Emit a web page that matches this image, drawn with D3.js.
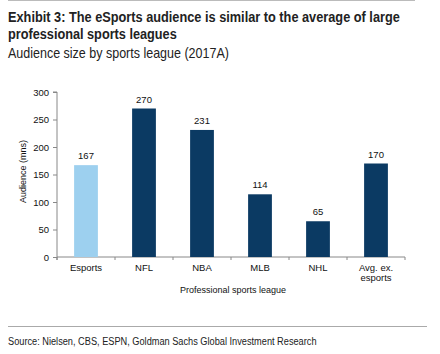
<!DOCTYPE html>
<html>
<head>
<meta charset="utf-8">
<script src="https://cdn.jsdelivr.net/npm/d3@7"></script>
<style>
  body { margin: 0; background: #fff; }
  svg { display: block; }
  .title { font-family: "Liberation Sans Narrow", "Arial Narrow", "Liberation Sans", sans-serif; fill: #222; }
  .chart text { font-family: "Liberation Sans", Arial, sans-serif; fill: #111; }
</style>
</head>
<body>
<svg id="chart" width="440" height="354"></svg>
<script>
const categories = ["Esports", "NFL", "NBA", "MLB", "NHL", "Avg. ex. esports"];
const audience = [167, 270, 231, 114, 65, 170];
const yTicks = [0, 50, 100, 150, 200, 250, 300];

const colorHighlight = "#9dd0ef";
const colorBase = "#0b3a63";

const svg = d3.select("#chart");
const margin = { top: 92, left: 57, right: 35, bottom: 97 };
const width = 440 - margin.left - margin.right;
const height = 354 - margin.top - margin.bottom;

// header lines, squeezed horizontally to mimic the condensed face
function headerText(txt, yPos, size, weight, len, fill) {
    const t = svg.append("text").attr("class", "title")
        .attr("x", 0).attr("y", 0)
        .attr("font-size", size)
        .attr("font-weight", weight)
        .attr("fill", fill || "#222")
        .text(txt);
    const natural = t.node().getComputedTextLength();
    const k = Math.min(1, len / natural);
    t.attr("transform", `translate(8,${yPos}) scale(${k},1)`);
}

svg.append("line")
    .attr("x1", 8).attr("x2", 415).attr("y1", 0.5).attr("y2", 0.5)
    .attr("stroke", "#bbb").attr("stroke-width", 1);

headerText("Exhibit 3: The eSports audience is similar to the average of large", 22, 15.5, "bold", 392);
headerText("professional sports leagues", 39, 15.5, "bold", 169);
headerText("Audience size by sports league (2017A)", 58, 14, "normal", 221);

const g = svg.append("g")
    .attr("class", "chart")
    .attr("transform", `translate(${margin.left},${margin.top})`);

const x = d3.scaleBand()
    .domain(categories)
    .range([0, width])
    .paddingInner(0.59)
    .paddingOuter(0.295);

const y = d3.scaleLinear()
    .domain([0, 300])
    .range([height, 0]);

// y axis
const yAxis = g.append("g")
    .call(d3.axisLeft(y).tickValues(yTicks).tickSize(4).tickPadding(4));
yAxis.select(".domain").attr("stroke", "#888").attr("d", `M-4,0H0V${height + 3}`);
yAxis.selectAll(".tick line").attr("stroke", "#888");
yAxis.selectAll("text").attr("font-size", 9.5).attr("font-family", "Liberation Sans, Arial, sans-serif").attr("fill", "#111");

// x axis with ticks at band boundaries
const xAxisG = g.append("g").attr("transform", `translate(0,${height})`);
xAxisG.append("line")
    .attr("x1", 0).attr("x2", width)
    .attr("stroke", "#888");
const bounds = d3.range(categories.length + 1).map(i => i * width / categories.length);
xAxisG.selectAll(".xtick")
    .data(bounds)
    .enter()
    .append("line")
    .attr("x1", d => d).attr("x2", d => d)
    .attr("y1", 0).attr("y2", 3)
    .attr("stroke", "#888");

const xLabels = xAxisG.selectAll(".xlabel")
    .data(categories)
    .enter()
    .append("text")
    .attr("x", d => x(d) + x.bandwidth() / 2)
    .attr("y", 14)
    .attr("text-anchor", "middle")
    .attr("font-size", 9.5);
xLabels.each(function(d) {
    const parts = d === "Avg. ex. esports" ? ["Avg. ex.", "esports"] : [d];
    const t = d3.select(this);
    parts.forEach((p, i) => {
        t.append("tspan")
            .attr("x", x(d) + x.bandwidth() / 2)
            .attr("dy", i === 0 ? 0 : 10)
            .text(p);
    });
});

// bars
g.selectAll(".bar")
    .data(categories)
    .enter()
    .append("rect")
    .attr("x", d => x(d))
    .attr("y", (d, i) => y(audience[i]))
    .attr("width", x.bandwidth())
    .attr("height", (d, i) => height - y(audience[i]))
    .attr("fill", (d, i) => i === 0 ? colorHighlight : colorBase);

g.selectAll(".val")
    .data(categories)
    .enter()
    .append("text")
    .attr("x", d => x(d) + x.bandwidth() / 2)
    .attr("y", (d, i) => y(audience[i]) - 6)
    .attr("text-anchor", "middle")
    .attr("font-size", 9.5)
    .text((d, i) => audience[i]);

// axis titles
g.append("text")
    .attr("transform", `translate(-31,${height / 2 - 3}) rotate(-90)`)
    .attr("text-anchor", "middle")
    .attr("font-size", 9)
    .text("Audience (mns)");

g.append("text")
    .attr("x", width / 2 + 2)
    .attr("y", height + 36)
    .attr("text-anchor", "middle")
    .attr("font-size", 9)
    .text("Professional sports league");

// footer
svg.append("line")
    .attr("x1", 8).attr("x2", 427).attr("y1", 326.5).attr("y2", 326.5)
    .attr("stroke", "#aaa").attr("stroke-width", 1);
headerText("Source: Nielsen, CBS, ESPN, Goldman Sachs Global Investment Research", 345, 11.5, "normal", 309, "#444");
</script>
</body>
</html>
